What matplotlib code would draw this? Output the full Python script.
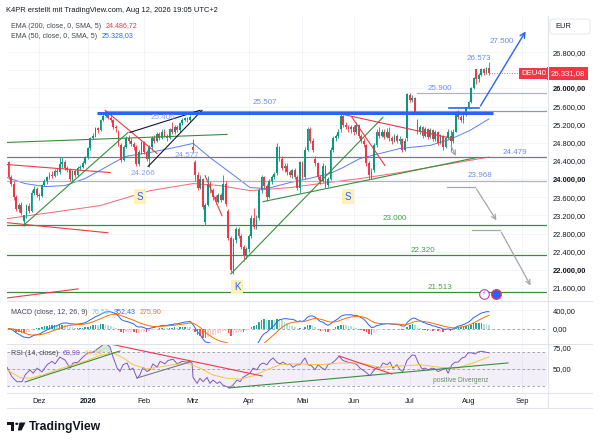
import numpy as np
import matplotlib
matplotlib.use("Agg")
import matplotlib.pyplot as plt
import matplotlib.transforms as mtrans
from matplotlib.patches import Rectangle, Circle, Polygon, FancyBboxPatch

plt.rcParams['font.family'] = ['Liberation Sans', 'DejaVu Sans']

# ---------------- data: daily DEU40 candles (bar index = trading day) ----------------
opens = [24370, 24050, 23900, 23600, 23350, 23420, 23080, 23200, 23400, 23300,
         23700, 23780, 23650, 23620, 23880, 23950, 24050, 24100, 24080, 24190,
         24150, 24340, 24380, 24250, 24200, 24000, 24180, 24100, 24250, 24270,
         24360, 24480, 24680, 24900, 24950, 25120, 25080, 25300, 25400, 25450,
         25350, 25300, 25150, 25050, 24750, 24420, 24700, 24900, 24850, 24780,
         24700, 24330, 24600, 24810, 24600, 24450, 24700, 24900, 24850, 25000,
         24900, 25050, 24950, 24900, 25100, 25050, 25150, 25080, 25230, 25300,
         25350, 25300, 24700, 24380, 24100, 23800, 24000, 23050, 23420, 23900,
         23750, 23600, 23500, 23650, 23550, 23900, 23300, 22700, 22000, 22650,
         22900, 22750, 22500, 22300, 22450, 22750, 23150, 22950, 23150, 23750,
         24050, 23850, 23600, 23950, 24050, 24130, 24700, 24450, 24250, 24300,
         24150, 24100, 24200, 24050, 23800, 24370, 24050, 24650, 25100, 24850,
         24450, 24350, 24050, 23950, 24300, 23880, 24000, 24650, 24900, 24950,
         25100, 25400, 25200, 25150, 25100, 25150, 25030, 25200, 24950, 24850,
         24750, 24350, 24080, 24200, 24750, 25050, 24950, 25050, 24930, 25050,
         24900, 24850, 24950, 24850, 24880, 24640, 24900, 25850, 25750, 25790,
         25300, 25050, 25150, 24950, 25100, 24920, 25080, 24880, 25050, 24800,
         24950, 24700, 24900, 24950, 24830, 25050, 25450, 25380, 25300, 25420,
         25580, 25700, 26000, 26420, 26200, 26300, 26420, 26350, 26440]
highs = [24400, 24100, 23950, 23650, 23480, 23500, 23200, 23450, 23480, 23750,
         23850, 23820, 23700, 23900, 24000, 24080, 24150, 24180, 24220, 24250,
         24480, 24480, 24420, 24300, 24250, 24200, 24220, 24280, 24320, 24400,
         24500, 24700, 24930, 25010, 25150, 25160, 25320, 25430, 25507, 25480,
         25420, 25330, 25200, 25080, 24800, 24750, 24950, 24980, 24900, 24820,
         24750, 24650, 24850, 24830, 24650, 24750, 24950, 24980, 25050, 25050,
         25100, 25100, 25000, 25130, 25250, 25200, 25200, 25260, 25340, 25380,
         25380, 25406, 24880, 24420, 24150, 24100, 24020, 23480, 24080, 23950,
         23800, 23650, 23700, 23700, 24100, 23950, 23350, 22750, 22700, 22950,
         22950, 22800, 22550, 22500, 22800, 23200, 23370, 23200, 23800, 24100,
         24080, 23900, 24000, 24100, 24150, 24790, 24720, 24500, 24350, 24350,
         24200, 24230, 24250, 24100, 24400, 24400, 24700, 25150, 25150, 24900,
         24500, 24380, 24100, 24350, 24320, 24050, 24700, 24950, 25000, 25100,
         25430, 25420, 25250, 25200, 25200, 25200, 25250, 25220, 25000, 24900,
         24780, 24400, 24250, 24800, 25100, 25150, 25100, 25100, 25120, 25150,
         24950, 25000, 25000, 24950, 24900, 24900, 25900, 25900, 25850, 25800,
         25320, 25200, 25180, 25150, 25130, 25120, 25100, 25080, 25070, 25000,
         24980, 24950, 25100, 25080, 25100, 25500, 25520, 25420, 25450, 25600,
         25720, 26020, 26250, 26430, 26350, 26450, 26450, 26480, 26573]
lows = [24000, 23850, 23550, 23300, 23280, 23200, 22970, 23150, 23250, 23280,
        23650, 23600, 23550, 23600, 23850, 23900, 24000, 24030, 24050, 24100,
        24120, 24250, 24200, 24150, 23960, 23950, 24050, 24080, 24200, 24240,
        24330, 24450, 24650, 24880, 24920, 25020, 25060, 25280, 25380, 25320,
        25250, 25100, 25050, 24720, 24380, 24400, 24680, 24800, 24720, 24650,
        24300, 24300, 24550, 24550, 24400, 24266, 24650, 24800, 24820, 24870,
        24880, 24920, 24850, 24880, 25000, 25000, 25040, 25050, 25200, 25280,
        25250, 25280, 24577, 23950, 23750, 23780, 23350, 23000, 23400, 23700,
        23550, 23450, 23480, 23500, 23530, 23400, 22650, 21950, 21910, 22600,
        22700, 22450, 22199, 22250, 22400, 22700, 22900, 22900, 23100, 23700,
        23800, 23526, 23580, 23900, 24000, 24100, 24400, 24200, 24150, 24100,
        24050, 24030, 24000, 23750, 23700, 24000, 24000, 24620, 24800, 24600,
        24300, 24000, 23900, 23930, 23814, 23820, 23980, 24600, 24850, 24900,
        25050, 25150, 25100, 25050, 25020, 24980, 25000, 24900, 24800, 24700,
        24300, 24000, 24000, 24150, 24700, 24900, 24920, 24880, 24900, 24850,
        24780, 24820, 24800, 24780, 24600, 24620, 24850, 25700, 25700, 25450,
        25000, 25000, 24900, 24930, 24880, 24900, 24850, 24830, 24750, 24780,
        24650, 24680, 24880, 24630, 24800, 25030, 25330, 25250, 25230, 25400,
        25550, 25680, 25980, 26100, 26150, 26280, 26300, 26320, 26300]
closes = [24050, 23900, 23600, 23350, 23420, 23250, 23200, 23400, 23300, 23700,
          23780, 23650, 23620, 23880, 23950, 24050, 24100, 24080, 24190, 24150,
          24340, 24380, 24250, 24200, 24000, 24180, 24100, 24250, 24270, 24360,
          24480, 24680, 24900, 24950, 25120, 25080, 25300, 25400, 25450, 25350,
          25300, 25150, 25120, 24750, 24420, 24700, 24900, 24850, 24780, 24700,
          24330, 24600, 24810, 24600, 24450, 24700, 24900, 24850, 25000, 24900,
          25050, 24950, 24900, 25100, 25050, 25150, 25080, 25230, 25300, 25350,
          25300, 25370, 24640, 24100, 23800, 24000, 23380, 23420, 23900, 23750,
          23600, 23500, 23650, 23550, 23900, 23450, 22700, 22000, 22650, 22900,
          22750, 22500, 22300, 22450, 22750, 23150, 22950, 23100, 23750, 24050,
          23850, 23600, 23950, 24050, 24120, 24700, 24450, 24250, 24300, 24150,
          24100, 24200, 24050, 23800, 24370, 24050, 24650, 25100, 24850, 24650,
          24350, 24050, 23950, 24300, 23880, 24000, 24650, 24900, 24950, 25050,
          25400, 25200, 25150, 25100, 25150, 25030, 25200, 24950, 24850, 24780,
          24350, 24100, 24150, 24750, 25050, 24950, 25050, 24930, 25050, 24900,
          24850, 24950, 24850, 24880, 24640, 24850, 25880, 25750, 25790, 25480,
          25050, 25150, 24950, 25100, 24920, 25080, 24880, 25050, 24800, 24950,
          24700, 24900, 25050, 24830, 25050, 25450, 25380, 25300, 25420, 25580,
          25700, 26000, 26230, 26200, 26300, 26420, 26350, 26440, 26331.08]

# moving averages: (bar index, value)
ema50_pts = [(-0.6, 24035), (6.5, 23902), (14.3, 23836), (22.1, 23858), (29.9, 24013),
             (37.8, 24256), (45.6, 24500), (55.4, 24588), (65.1, 24699), (72.2, 24787),
             (78.8, 24477), (86.7, 24146), (94.5, 23814), (101.1, 23792), (110.1, 23924),
             (119.1, 24035), (125.8, 24124), (130.9, 24256), (137.5, 24455), (153.2, 24676),
             (164.9, 24743), (172.7, 24876), (180.6, 25075), (188.0, 25328)]
ema200_pts = [(-0.6, 23128), (16.2, 23261), (35.8, 23416), (55.4, 23747), (72.2, 23902),
              (82.7, 23858), (94.5, 23747), (110.1, 23814), (121.9, 23902), (137.5, 24013),
              (153.2, 24146), (168.8, 24300), (188.0, 24487)]

# RSI (14) and its moving average
rsi_pts = [(-0.6, 52), (1.4, 40.6), (3.3, 35), (5.3, 35), (6.5, 43), (8.4, 49), (9.6, 45),
           (11.2, 51), (13.1, 46.5), (15.1, 55), (17.0, 59), (18.2, 56), (20.1, 64),
           (22.1, 60.5), (24.1, 51), (25.2, 57), (27.2, 58), (29.1, 64), (31.1, 69),
           (33.1, 70), (35.0, 74), (37.8, 80.6), (39.7, 76), (40.9, 64), (42.5, 51),
           (43.6, 47), (44.8, 55), (46.4, 57), (47.5, 49), (48.7, 51), (50.3, 39),
           (51.4, 43), (52.6, 52), (54.2, 47), (55.4, 49), (56.5, 56), (58.1, 52),
           (59.3, 59), (61.2, 56), (62.4, 60), (64.4, 61.5), (66.0, 56), (67.9, 59),
           (69.8, 58), (71.0, 59), (71.8, 57), (72.2, 40), (73.8, 33), (74.9, 39),
           (76.1, 35), (77.7, 40), (78.8, 33), (80.0, 37), (81.6, 33), (82.7, 35),
           (83.9, 31), (85.5, 29), (86.3, 27.6), (87.8, 31), (89.4, 37), (90.6, 35),
           (91.7, 40), (93.3, 43), (94.5, 45), (95.7, 51), (97.2, 49), (98.4, 55),
           (99.6, 57), (101.1, 55), (102.3, 60), (103.5, 63), (105.0, 58), (106.2, 56),
           (107.4, 58), (109.0, 55), (110.1, 56), (111.3, 52), (112.9, 55), (114.0, 55),
           (116.0, 63), (117.2, 55), (118.7, 53.5), (119.9, 49), (121.1, 55), (122.7, 51),
           (123.9, 49), (125.0, 55), (126.6, 57), (127.8, 60), (129.3, 65), (130.9, 60),
           (132.8, 58), (134.8, 57), (136.4, 55), (137.5, 51), (139.5, 47), (141.4, 42),
           (142.6, 47), (144.2, 52), (145.3, 51), (146.5, 57), (148.1, 55), (149.3, 58),
           (150.4, 51), (152.0, 55), (153.2, 49), (154.3, 47), (155.9, 60), (157.9, 66.5),
           (159.1, 66), (160.2, 58), (161.8, 50), (163.0, 51), (164.2, 49), (165.7, 51),
           (166.9, 50), (168.1, 47), (169.6, 49), (170.8, 52), (172.0, 45), (173.5, 55),
           (174.7, 58), (175.9, 58), (177.4, 63), (178.6, 64), (179.8, 69), (181.3, 69),
           (182.5, 67.6), (183.7, 70), (185.3, 71), (186.4, 70), (188.0, 68.98)]
rsi_ma_pts = [(-0.6, 49), (4.5, 40), (8.4, 39), (13.5, 43), (19.0, 49), (25.2, 55),
              (30.7, 60), (35.8, 66), (40.9, 69), (44.8, 63), (48.7, 55), (54.2, 50),
              (59.3, 52.5), (64.4, 55), (69.8, 57), (74.9, 51), (80.0, 43), (85.5, 39),
              (90.6, 38), (95.7, 42), (101.1, 49), (106.2, 55), (111.3, 56), (114.0, 56),
              (121.9, 55), (129.7, 57), (137.5, 57), (145.3, 52), (153.2, 53.5), (161.0, 55),
              (168.8, 52), (175.5, 51), (180.6, 56), (188.0, 64.14)]

# axis labels
month_pos = [12, 31, 53, 72, 94, 115, 135, 157, 180, 201]
month_labels = ["Dez", "2026", "Feb", "Mrz", "Apr", "Mai", "Jun", "Jul", "Aug", "Sep"]
price_ticks = [21600, 22000, 22400, 22800, 23200, 23600, 24000, 24400,
               24800, 25200, 25600, 26000, 26400, 26800]
bold_ticks = [22000, 24000, 26000]

# drawn levels
gray_levels = [(24479, -0.6, '#787b86'), (23968, -0.6, '#b2b5be'),
               (25507, 37.8, '#9598a1'), (25900, 159.8, '#b2b5be')]
green_levels = [23000, 22320, 21513]
# trendlines: (i0, p0, i1, p1, colour)
trendlines = [(-0.6, 24809, 85.5, 24986, '#388e3c'),
              (-0.6, 24322, 39.7, 24146, '#f23645'),
              (-0.6, 23040, 38.9, 22818, '#f23645'),
              (-0.6, 21381, 27.2, 21580, '#f23645'),
              (5.7, 22973, 46.8, 25030, '#388e3c'),
              (37.8, 25517, 58.1, 24566, '#f23645'),
              (47.5, 25030, 74.9, 25517, '#131722'),
              (54.6, 24278, 75.7, 25517, '#131722'),
              (76.9, 24079, 83.5, 23194, '#f23645'),
              (87.0, 21911, 146.5, 25362, '#388e3c'),
              (99.6, 23504, 183.3, 24477, '#388e3c'),
              (128.9, 25451, 173.5, 24898, '#f23645'),
              (134.4, 25362, 147.3, 24300, '#f23645')]
blue_zone = (25462, 34.6, 189.6)
blue_base = (25561, 172.3, 184.1)
blue_target = (202.9, 27309)
gray_arrows = [[(172.7, 24787), (175.5, 24455)],
               [(171.6, 23836), (182.5, 23836), (191.5, 23040)],
               [(181.3, 22885), (192.3, 22885), (204.8, 21602)]]
price_labels = [("25.507", 100.4, 25694, '#6f8cf0'), ("25.900", 168.8, 26004, '#6f8cf0'),
                ("26.573", 184.1, 26667, '#6f8cf0'), ("27.500", 193.1, 27043, '#6f8cf0'),
                ("24.479", 198.2, 24588, '#6f8cf0'), ("23.968", 184.5, 24079, '#6f8cf0'),
                ("25.406", 60.5, 25362, '#8aa0f0'), ("24.266", 52.6, 24124, '#8aa0f0'),
                ("24.577", 69.8, 24522, '#8aa0f0'),
                ("23.000", 151.2, 23128, '#43a047'), ("22.320", 162.2, 22420, '#43a047'),
                ("21.513", 168.8, 21602, '#43a047')]
pattern_labels = [("S", 51.5, 23615), ("S", 132.8, 23615), ("K", 89.4, 21624)]
rsi_lines = [(37.8, 80.6, 99.2, 41.8, '#f23645'),
             (6.5, 34.7, 43.6, 71.2, '#388e3c'),
             (50.3, 39.4, 71.0, 58.2, '#787b86'),
             (86.3, 27.7, 195.4, 57.1, '#388e3c'),
             (129.3, 65.3, 150.0, 44.1, '#f23645')]

def de(v, d=2):
    s = f"{v:,.{d}f}"
    return s.replace(",", "X").replace(".", ",").replace("X", ".")

# ---------------- figure ----------------
W, H = 600.0, 444.0
fig = plt.figure(figsize=(6.0, 4.44), dpi=100, facecolor='white')

def box(x0, y0, x1, y1):
    return [x0 / W, 1 - y1 / H, (x1 - x0) / W, (y1 - y0) / H]

ax = fig.add_axes(box(7, 16, 547, 300))
axm = fig.add_axes(box(7, 301, 547, 343))
axr = fig.add_axes(box(7, 344, 547, 392))

XL = (-0.6, 210.7)
TXT = '#131722'
for a in (ax, axm, axr):
    a.set_xlim(*XL)
    for s in a.spines.values():
        s.set_visible(False)
    a.set_xticks(month_pos)
    a.grid(True, color='#f0f3fa', lw=0.6, zorder=0)
    a.set_axisbelow(True)
    a.yaxis.tick_right()
    a.tick_params(axis='y', length=0, pad=4, labelsize=5.4, labelcolor=TXT)
    a.tick_params(axis='x', length=0, labelbottom=False)

# ---- main panel ----
o = np.array(opens, float); h = np.array(highs, float)
l = np.array(lows, float); c = np.array(closes, float)
idx = np.arange(len(c))
up = c >= o
col = np.where(up, '#089981', '#f23645')
ax.vlines(idx, l, h, colors=col, lw=0.6, zorder=3)
ax.bar(idx, np.maximum(np.abs(c - o), 14), bottom=np.minimum(o, c), width=0.72,
       color=col, lw=0, zorder=3)

ax.set_ylim(21336, 27596)
ax.set_yticks(price_ticks)
ax.set_yticklabels([de(v) for v in price_ticks])
for t, v in zip(ax.get_yticklabels(), price_ticks):
    if v in bold_ticks:
        t.set_fontweight('bold')

ex, ey = zip(*ema50_pts)
ax.plot(ex, ey, color='#5b7cf7', lw=0.7, zorder=2)
ex, ey = zip(*ema200_pts)
ax.plot(ex, ey, color='#f7666f', lw=0.7, zorder=2)

for p, i0, cc in gray_levels:
    ax.plot([i0, XL[1]], [p, p], color=cc, lw=0.9, zorder=2)
for p in green_levels:
    ax.plot(XL, [p, p], color='#388e3c', lw=0.9, zorder=2)
for i0, p0, i1, p1, cc in trendlines:
    ax.plot([i0, i1], [p0, p1], color=cc, lw=0.8, zorder=4)

p, i0, i1 = blue_zone
ax.plot([i0, i1], [p, p], color='#2962ff', lw=2.2, zorder=4, solid_capstyle='butt')
p, i0, i1 = blue_base
ax.plot([i0, i1], [p, p], color='#2962ff', lw=1.2, zorder=4)
ax.annotate('', xy=blue_target, xytext=(i1, p),
            arrowprops=dict(arrowstyle='->', color='#2962ff', lw=1.0, mutation_scale=9),
            zorder=4)
for pts in gray_arrows:
    xs, ys = zip(*pts)
    if len(pts) > 2:
        ax.plot(xs[:-1], ys[:-1], color='#a3a6af', lw=0.9, zorder=4)
    ax.annotate('', xy=pts[-1], xytext=pts[-2],
                arrowprops=dict(arrowstyle='->', color='#a3a6af', lw=0.9, mutation_scale=8),
                zorder=4)

for s, i, p, cc in price_labels:
    ax.text(i, p, s, color=cc, fontsize=5.8, ha='center', va='center', zorder=5)
for s, i, p in pattern_labels:
    ax.text(i, p, s, color='#2962ff', fontsize=7, ha='center', va='center', zorder=5,
            bbox=dict(boxstyle='square,pad=0.25', fc='#fdf1b8', ec='none'))

# icons on the lowest level
ax.scatter([186.0], [21470], s=48, facecolor='white', edgecolor='#ab47bc', lw=0.8, zorder=6)
ax.text(186.0, 21470, '\u26a1', color='#ab47bc', fontsize=4.5, ha='center', va='center',
        zorder=7, family=['DejaVu Sans'])
ax.scatter([190.7], [21470], s=48, facecolor='#2962ff', edgecolor='#f23645', lw=0.9, zorder=6)

# last price line and tags
last = c[-1]
ax.plot([idx[-1], XL[1]], [last, last], color='#f23645', lw=0.6, ls=(0, (1, 2)), zorder=2)
tr = mtrans.blended_transform_factory(ax.transAxes, ax.transData)
ax.text(0.998, last, 'DEU40', transform=tr, ha='right', va='center', fontsize=5.6,
        color='white', zorder=8, clip_on=False,
        bbox=dict(boxstyle='square,pad=0.3', fc='#f23645', ec='none'))
ax.text(1.006, last, de(last), transform=tr, ha='left', va='center', fontsize=5.6,
        color='white', zorder=8, clip_on=False,
        bbox=dict(boxstyle='square,pad=0.4', fc='#f23645', ec='none'))

# ---- MACD panel ----
def ema(x, n):
    a = 2.0 / (n + 1)
    out = np.empty_like(x)
    out[0] = x[0]
    for k in range(1, len(x)):
        out[k] = a * x[k] + (1 - a) * out[k - 1]
    return out

macd = ema(c, 12) - ema(c, 26)
sig = ema(macd, 9)
hist = macd - sig
prev = np.concatenate([[hist[0]], hist[:-1]])
hcol = np.where(hist >= 0, np.where(hist >= prev, '#26a69a', '#b2dfdb'),
                np.where(hist < prev, '#ff5252', '#ffcdd2'))
axm.bar(idx, hist, width=0.62, color=hcol, lw=0, zorder=2)
axm.plot(idx, macd, color='#2962ff', lw=0.7, zorder=3)
axm.plot(idx, sig, color='#ff6d00', lw=0.7, zorder=3)
axm.axhline(0, color='#9598a1', lw=0.6, ls=(0, (3, 3)), zorder=1)
axm.set_ylim(-311, 599)
axm.set_yticks([0, 400])
axm.set_yticklabels([de(0), de(400)])

# ---- RSI panel ----
axr.set_ylim(22.9, 79.4)
axr.axhspan(30, 70, color='#7e57c2', alpha=0.09, lw=0, zorder=1)
for lv in (70, 50, 30):
    axr.axhline(lv, color='#9598a1', lw=0.6, ls=(0, (3, 3)), zorder=1)
rx, rv = map(np.array, zip(*rsi_pts))
axr.fill_between(rx, rv, 70, where=rv > 70, interpolate=True, color='#4caf50',
                 alpha=0.25, lw=0, zorder=2)
axr.plot(rx, rv, color='#7e57c2', lw=0.7, zorder=3)
mx, mv = zip(*rsi_ma_pts)
axr.plot(mx, mv, color='#f5c542', lw=0.7, zorder=3)
for i0, v0, i1, v1, cc in rsi_lines:
    axr.plot([i0, i1], [v0, v1], color=cc, lw=0.8, zorder=4)
axr.text(177.0, 35.9, 'positive Divergenz', color='#6b8f6b', fontsize=4.9,
         ha='center', va='center', zorder=5)
axr.set_yticks([50, 75])
axr.set_yticklabels([de(50), de(75)])
axr.tick_params(axis='x', labelbottom=True, pad=4, labelsize=5.4, labelcolor=TXT)
axr.set_xticklabels(month_labels)
for t, s in zip(axr.get_xticklabels(), month_labels):
    if s == "2026":
        t.set_fontweight('bold')

# ---- pane separators ----
sep = '#e0e3eb'
for yy in (300.5, 343.5, 392.5):
    fig.add_artist(plt.Line2D([7 / W, 592 / W], [1 - yy / H] * 2, color=sep, lw=0.8))
fig.add_artist(plt.Line2D([547.5 / W] * 2, [1 - 16 / H, 1 - 408 / H], color=sep, lw=0.8))
fig.add_artist(plt.Line2D([7 / W, 592 / W], [1 - 408 / H] * 2, color=sep, lw=0.8))

# ---- legends (each value placed right after the previous text) ----
def legend(x, y, title, values):
    t = fig.text(x / W, 1 - y / H, title, fontsize=5.1, color='#434651', va='center')
    for val, cc in values:
        t = axr.annotate(val, xy=(1, 0.5), xycoords=t, xytext=(3.0, 0),
                         textcoords='offset points', fontsize=5.1, color=cc,
                         va='center', annotation_clip=False)

fig.text(6 / W, 1 - 10 / H, 'K4PR erstellt mit TradingView.com, Aug 12, 2026 19:05 UTC+2',
         fontsize=5.4, color=TXT, va='center')
legend(11, 26, 'EMA (200, close, 0, SMA, 5)', [('24.486,72', '#f23645')])
legend(11, 36, 'EMA (50, close, 0, SMA, 5)', [('25.328,03', '#2962ff')])
legend(11, 312, 'MACD (close, 12, 26, 9)', [('76,53', '#80cbc4'), ('352,43', '#2962ff'),
                                           ('275,90', '#ff6d00')])
legend(11, 353, 'RSI (14, close)', [('68,98', '#7e57c2'), ('64,14', '#f5c542')])

# currency box on the price scale
fig.add_artist(FancyBboxPatch((550 / W, 1 - 34 / H), 40 / W, 15 / H,
                              boxstyle='round,pad=0,rounding_size=0.006',
                              fc='white', ec='#e0e3eb', lw=0.6))
fig.text(555 / W, 1 - 26.5 / H, 'EUR', fontsize=5.4, color=TXT, va='center', ha='left')

# TradingView logo
fig.add_artist(Rectangle((7 / W, 1 - 425 / H), 7 / W, 3 / H, color=TXT, lw=0))
fig.add_artist(Rectangle((10.5 / W, 1 - 430.5 / H), 3.5 / W, 8 / H, color=TXT, lw=0))
fig.add_artist(Circle((16.8 / W, 1 - 423.8 / H), 1.6 / W, color=TXT, lw=0))
fig.add_artist(Polygon([(19.5 / W, 1 - 422.5 / H), (25.5 / W, 1 - 422.5 / H),
                        (21.5 / W, 1 - 430.5 / H), (17.8 / W, 1 - 430.5 / H)],
                       closed=True, color=TXT, lw=0))
fig.text(29 / W, 1 - 426.5 / H, 'TradingView', fontsize=8.8, color=TXT, va='center',
         fontweight='semibold')

fig.savefig('out.png', dpi=100, facecolor='white')
